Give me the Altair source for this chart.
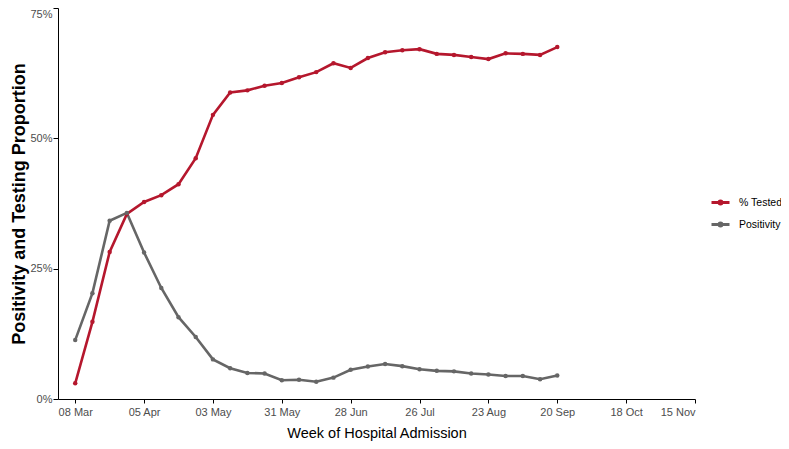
import altair as alt
import pandas as pd

weeks = [
    "2020-03-08", "2020-03-15", "2020-03-22", "2020-03-29", "2020-04-05",
    "2020-04-12", "2020-04-19", "2020-04-26", "2020-05-03", "2020-05-10",
    "2020-05-17", "2020-05-24", "2020-05-31", "2020-06-07", "2020-06-14",
    "2020-06-21", "2020-06-28", "2020-07-05", "2020-07-12", "2020-07-19",
    "2020-07-26", "2020-08-02", "2020-08-09", "2020-08-16", "2020-08-23",
    "2020-08-30", "2020-09-06", "2020-09-13", "2020-09-20",
]
tested = [
    3.0, 14.8, 28.2, 35.5, 37.8, 39.1, 41.2, 46.2, 54.5, 58.8,
    59.2, 60.1, 60.6, 61.7, 62.7, 64.4, 63.5, 65.4, 66.5, 66.9,
    67.1, 66.2, 66.0, 65.6, 65.2, 66.3, 66.2, 66.0, 67.5,
]
positivity = [
    11.3, 20.3, 34.2, 35.7, 28.1, 21.3, 15.7, 11.9, 7.6, 5.9,
    5.0, 4.9, 3.6, 3.7, 3.3, 4.1, 5.6, 6.25, 6.7, 6.3,
    5.7, 5.4, 5.3, 4.9, 4.7, 4.4, 4.4, 3.8, 4.5,
]
series_names = ["% Tested", "Positivity"]
series_colors = ["#B5172D", "#666666"]
tick_dates = ["2020-03-08", "2020-04-05", "2020-05-03", "2020-05-31", "2020-06-28",
              "2020-07-26", "2020-08-23", "2020-09-20", "2020-10-18", "2020-11-15"]
x_domain = ["2020-03-01", "2020-11-15"]
y_ticks = [0, 25, 50, 75]


def ms(d):
    return int(pd.Timestamp(d, tz="UTC").value // 10**6)


rows = []
for w, t, p in zip(weeks, tested, positivity):
    rows.append({"week": ms(w), "series": series_names[0], "value": t / 100})
    rows.append({"week": ms(w), "series": series_names[1], "value": p / 100})
df = pd.DataFrame(rows)

legend_symbol = "M-1,0H1M-0.16,0A0.16,0.16 0 1,0 0.16,0A0.16,0.16 0 1,0 -0.16,0"

chart = alt.Chart(df).mark_line(
    strokeWidth=2.6,
    point=alt.OverlayMarkDef(size=20, filled=True, opacity=1),
).encode(
    x=alt.X(
        "week:T",
        scale=alt.Scale(type="utc", domain=[ms(d) for d in x_domain], nice=False),
        axis=alt.Axis(
            title="Week of Hospital Admission",
            values=[ms(d) for d in tick_dates],
            format="%d %b",
            grid=False,
            labelFontSize=11,
            labelColor="#4d4d4d",
            titleFontSize=14.5,
            titleFontWeight="normal",
            titleColor="#000000",
            titlePadding=9,
            tickSize=4,
            labelPadding=3,
        ),
    ),
    y=alt.Y(
        "value:Q",
        scale=alt.Scale(domain=[0, 0.75], nice=False),
        axis=alt.Axis(
            title="Positivity and Testing Proportion",
            values=[v / 100 for v in y_ticks],
            format=".0%",
            grid=False,
            labelFontSize=11,
            labelColor="#4d4d4d",
            labelBaseline={"condition": {"test": "datum.value >= 0.75", "value": "top"}, "value": "middle"},
            titleFontSize=18,
            titleFontWeight="bold",
            titleColor="#000000",
            titlePadding=1,
            tickSize=5,
            labelPadding=1,
        ),
    ),
    color=alt.Color(
        "series:N",
        scale=alt.Scale(domain=series_names, range=series_colors),
        legend=alt.Legend(
            title=None,
            orient="none",
            legendX=652,
            legendY=184,
            symbolType=legend_symbol,
            symbolSize=324,
            symbolStrokeWidth=3,
            labelFontSize=10.5,
            labelColor="#000000",
            rowPadding=4,
            labelOffset=8,
        ),
    ),
    order=alt.Order("week:T"),
).properties(
    width=637,
    height=391,
    autosize=alt.AutoSizeParams(type="none"),
    padding={"left": 50, "top": 0, "right": 86, "bottom": 42},
).configure(
    font="Liberation Sans",
).configure_view(
    stroke=None,
).configure_axis(
    domainColor="#000000",
    tickColor="#000000",
    domainWidth=1,
)

chart.save("out.html", embed_options={"renderer": "svg", "actions": False})
